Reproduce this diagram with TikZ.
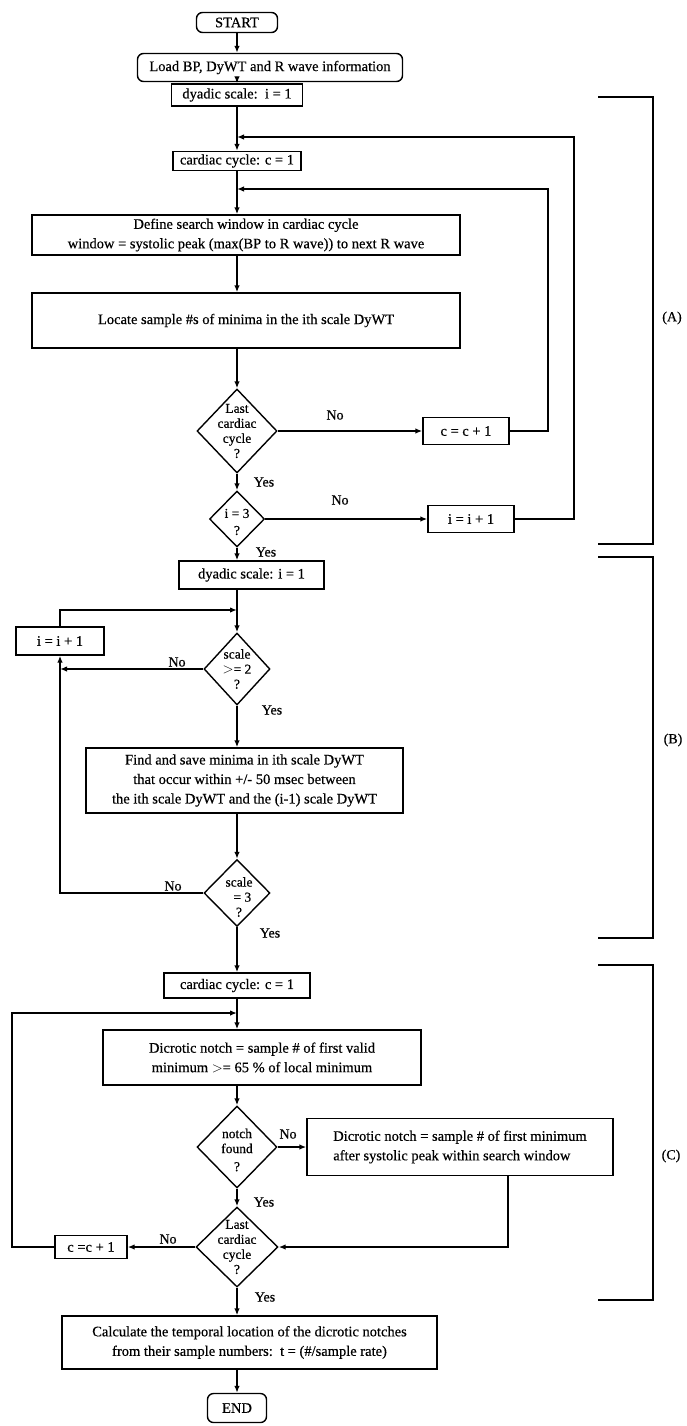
\documentclass[tikz,border=0pt]{standalone}
\usepackage{fontspec}
\setmainfont{Liberation Serif}[BoldFont={Liberation Serif},BoldFeatures={FakeBold=0.45}]
\usetikzlibrary{shapes.geometric,arrows.meta}
\newcommand\fsbox{\fontsize{14.5}{19.5}\selectfont\bfseries}
\newcommand\fsdia{\fontsize{13.5}{15}\selectfont\bfseries}
\newcommand\fslab{\fontsize{14}{16}\selectfont\bfseries}
\begin{document}
\begin{tikzpicture}[x=1pt,y=-1pt,
  box/.style={draw,line width=1.4pt,rectangle,inner sep=0pt,align=center,font=\fsbox},
  rbox/.style={box,rounded corners=6pt},
  dia/.style={draw,line width=1.4pt,diamond,inner sep=0pt},
  dtext/.style={font=\fsdia,align=center,inner sep=0pt},
  lab/.style={font=\fslab,inner sep=0pt},
  ln/.style={line width=1.4pt},
  arr/.style={ln,-{Latex[length=7pt,width=5.5pt]}},
]
\useasboundingbox (0,0) rectangle (686,1426);

% ---- nodes
\node[rbox,minimum width=81,minimum height=20] (start) at (237,22.5) {START};
\node[rbox,minimum width=265,minimum height=28] (load) at (270,67.5) {Load BP, DyWT and R wave information};
\node[box,minimum width=131,minimum height=22] (dy1) at (237,95) {dyadic scale:\ \ i = 1};
\node[box,minimum width=128,minimum height=19] (cc1) at (237,161) {cardiac cycle: c = 1};
\node[box,minimum width=428,minimum height=40] (define) at (246,235) {Define search window in cardiac cycle\\window = systolic peak (max(BP to R wave)) to next R wave};
\node[box,minimum width=428,minimum height=55] (locate) at (246,320.5) {Locate sample \#s of minima in the ith scale DyWT};
\node[dia,minimum width=80,minimum height=84] (d1) at (237,431) {};
\node[dtext] (d1t) at (237,431) {Last\\cardiac\\cycle\\?};
\node[box,minimum width=86,minimum height=27] (c1inc) at (466,431) {c = c + 1};
\node[dia,minimum width=55,minimum height=56] (d2) at (237,519) {};
\node[dtext] (d2t) at (237,522) {i = 3\\[2pt]?};
\node[box,minimum width=86,minimum height=27] (i1inc) at (471,519) {i = i + 1};
\node[box,minimum width=145,minimum height=28] (dy2) at (251.5,575) {dyadic scale: i = 1};
\node[box,minimum width=88,minimum height=28] (i2inc) at (60,641) {i = i + 1};
\node[dia,minimum width=66,minimum height=72] (d3) at (237,669) {};
\node[dtext] (d3t) at (237,669) {scale\\$>$= 2\\?};
\node[box,minimum width=317,minimum height=65] (find) at (244.5,780.5) {Find and save minima in ith scale DyWT\\that occur within +/- 50 msec between\\the ith scale DyWT and the (i-1) scale DyWT};
\node[dia,minimum width=66,minimum height=67] (d4) at (237,893) {};
\node[dtext] (d4t) at (239,897) {scale\\\ \ = 3\\?};
\node[box,minimum width=146,minimum height=25] (cc2) at (237,985.5) {cardiac cycle: c = 1};
\node[box,minimum width=318,minimum height=55] (dicr) at (262,1057.5) {Dicrotic notch = sample \# of first valid\\minimum $>$= 65 \% of local minimum};
\node[dia,minimum width=80,minimum height=82] (d5) at (237,1147) {};
\node[dtext] (d5t) at (237,1150) {notch\\found\\[3pt]?};
\node[box,minimum width=306,minimum height=57,align=left] (alt) at (460,1147) {Dicrotic notch = sample \# of first minimum\\after systolic peak within search window};
\node[dia,minimum width=82,minimum height=80] (d6) at (237,1247) {};
\node[dtext] (d6t) at (237,1247) {Last\\cardiac\\cycle\\?};
\node[box,minimum width=72,minimum height=23] (c2inc) at (91,1247) {c =c + 1};
\node[box,minimum width=375,minimum height=53] (calc) at (249.5,1342.5) {Calculate the temporal location of the dicrotic notches\\from their sample numbers:\ \ t = (\#/sample rate)};
\node[rbox,minimum width=59,minimum height=29] (end) at (237,1408) {END};

% ---- junction coordinates
\coordinate (jA) at (237,137);
\coordinate (oA) at (574,137);
\coordinate (jI) at (237,189);
\coordinate (oI) at (548,189);
\coordinate (jB) at (237,610);
\coordinate (bN) at (60,669);
\coordinate (jC) at (237,1013);
\coordinate (oC) at (12,1013);

% ---- connectors
\draw[arr] (start.south) -- (start.south |- load.north);
\draw[arr] (dy1.north |- load.south) -- (dy1.north);
\draw[arr] (dy1.south) -- (cc1.north);
\draw[arr] (cc1.south) -- (define.north -| cc1.south);
\draw[arr] (define.south -| d1.north) -- (locate.north -| d1.north);
\draw[arr] (locate.south -| d1.north) -- (d1.north);
\draw[arr] (d1.east) -- (c1inc.west);
\draw[arr] (c1inc.east) -| (oI) -- (jI);
\draw[arr] (d1.south) -- (d2.north);
\draw[arr] (d2.east) -- (i1inc.west);
\draw[arr] (i1inc.east) -| (oA) -- (jA);
\draw[arr] (d2.south) -- (d2.south |- dy2.north);
\draw[arr] (d2.south |- dy2.south) -- (d3.north);
\draw[arr] (i2inc.north) |- (jB);
\draw[arr] (d3.west) -- (bN);
\draw[arr] (d3.south) -- (d3.south |- find.north);
\draw[arr] (d4.north |- find.south) -- (d4.north);
\draw[arr] (d4.west) -| (i2inc.south);
\draw[arr] (d4.south) -- (cc2.north);
\draw[arr] (cc2.south) -- (cc2.south |- dicr.north);
\draw[arr] (c2inc.west) -| (oC) -- (jC);
\draw[arr] (d5.north |- dicr.south) -- (d5.north);
\draw[arr] (d5.east) -- (alt.west);
\draw[arr] (d5.south) -- (d6.north);
\draw[arr] ([xshift=48pt]alt.south) |- (d6.east);
\draw[arr] (d6.west) -- (c2inc.east);
\draw[arr] (d6.south) -- (d6.south |- calc.north);
\draw[arr] (end.north |- calc.south) -- (end.north);

% ---- labels
\node[lab] (no1) at (335,415) {No};
\node[lab] (yes1) at (264,482) {Yes};
\node[lab] (no2) at (340,500) {No};
\node[lab] (yes2) at (266,552) {Yes};
\node[lab] (no3) at (177,662) {No};
\node[lab] (yes3) at (272,710) {Yes};
\node[lab] (no4) at (173,886) {No};
\node[lab] (yes4) at (270,933) {Yes};
\node[lab] (no5) at (288,1134) {No};
\node[lab] (yes5) at (264,1202) {Yes};
\node[lab] (no6) at (168,1239) {No};
\node[lab] (yes6) at (265,1297) {Yes};

% ---- brackets
\draw[ln] (598,97) -- (653,97) -- (653,544) -- (598,544);
\draw[ln] (598,557) -- (653,557) -- (653,938) -- (598,938);
\draw[ln] (598,965) -- (653,965) -- (653,1300) -- (598,1300);
\node[lab] (bA) at (672,318) {(A)};
\node[lab] (bB) at (673,740) {(B)};
\node[lab] (bC) at (671,1156) {(C)};
\end{tikzpicture}
\end{document}
